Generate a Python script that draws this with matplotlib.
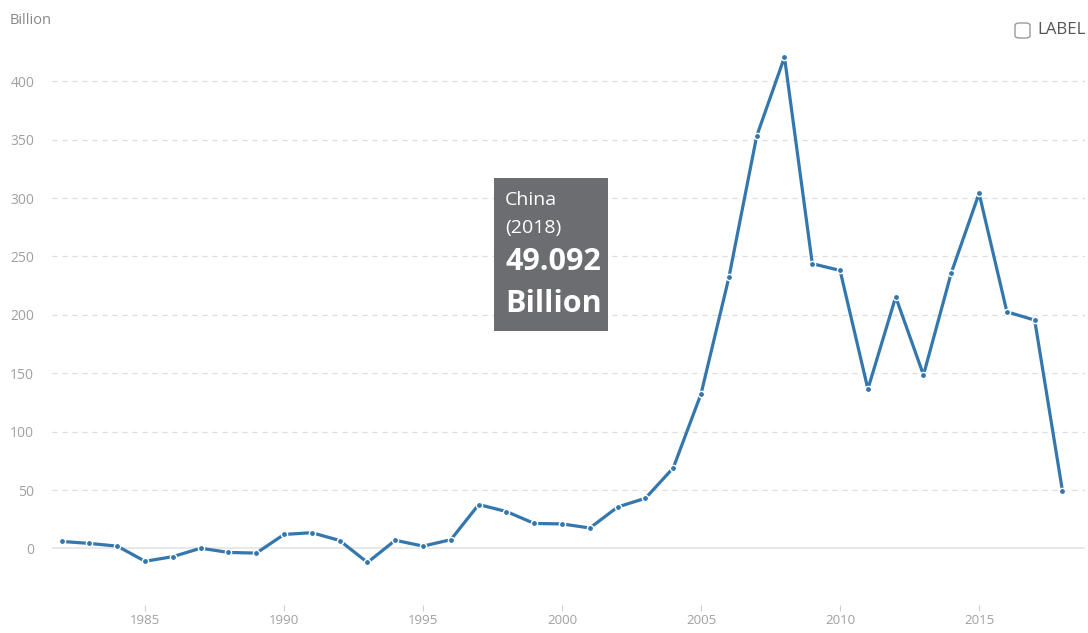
import matplotlib.pyplot as plt
from matplotlib.patches import FancyBboxPatch, Rectangle

plt.rcParams['font.family'] = ['Open Sans', 'DejaVu Sans']

# Net inflows, China (Billion)
years = list(range(1982, 2019))
values = [6.0, 4.3, 2.0, -11.0, -7.0, 0.2, -3.4, -4.0, 12.0, 13.5,
          6.8, -12.0, 7.0, 2.0, 7.5, 37.6, 31.6, 21.4, 21.0, 17.5,
          35.5, 43.0, 69.0, 132.5, 232.0, 353.0, 420.7, 243.8, 238.0, 136.5,
          215.4, 148.5, 236.0, 304.0, 202.6, 195.5, 49.092]
yticks = [0, 50, 100, 150, 200, 250, 300, 350, 400]
xticks = [1985, 1990, 1995, 2000, 2005, 2010, 2015]

line_color = "#3477ad"
grid_color = "#dcdcdc"
text_gray = "#a0a0a0"

fig = plt.figure(figsize=(10.88, 6.33), dpi=100)
ax = fig.add_axes([0.048, 0.045, 0.949, 0.882])

ax.plot(years, values, color=line_color, linewidth=2.3, marker="o",
        markersize=4.5, markerfacecolor=line_color, markeredgecolor="white",
        markeredgewidth=1.0, zorder=3)

ax.set_xlim(1981.66, 2018.8)
ax.set_ylim(-48, 430)

# dashed grid, solid zero line
for y in yticks[1:]:
    ax.axhline(y, color=grid_color, linewidth=0.9, linestyle=(0, (4, 4)), zorder=1)
ax.axhline(0, color="#e4e4e4", linewidth=1.2, zorder=1)

ax.set_yticks(yticks)
ax.set_xticks(xticks)
ax.tick_params(axis="y", length=0, pad=13, labelsize=10, labelcolor=text_gray)
ax.tick_params(axis="x", length=4, width=0.8, color="#cfcfcf", pad=3,
               labelsize=9.5, labelcolor=text_gray)
for side in ["top", "right", "left", "bottom"]:
    ax.spines[side].set_visible(False)

fig.text(10 / 1088, 1 - 20 / 633, "Billion", fontsize=10.5, color="#888888",
         va="center", ha="left")

# LABEL checkbox
fig.patches.append(FancyBboxPatch((1015 / 1088, 1 - 38 / 633), 15 / 1088, 15 / 633,
                                  boxstyle="round,pad=0,rounding_size=0.004",
                                  transform=fig.transFigure, facecolor="white",
                                  edgecolor="#9a9a9a", linewidth=1.0))
fig.text(1037 / 1088, 1 - 30 / 633, "LABEL", fontsize=12.2, color="#555555",
         va="center", ha="left")

# tooltip
fig.patches.append(Rectangle((494 / 1088, 1 - 331 / 633), 114 / 1088, 153 / 633,
                             transform=fig.transFigure, facecolor="#6b6d70",
                             edgecolor="none", zorder=5))
fig.text(505 / 1088, 1 - 200 / 633, "China", fontsize=14, color="white",
         va="center", ha="left", zorder=6)
fig.text(505 / 1088, 1 - 228 / 633, "(2018)", fontsize=14, color="white",
         va="center", ha="left", zorder=6)
fig.text(505 / 1088, 1 - 262 / 633, "49.092", fontsize=22, fontweight="bold",
         color="white", va="center", ha="left", zorder=6)
fig.text(505 / 1088, 1 - 304 / 633, "Billion", fontsize=22, fontweight="bold",
         color="white", va="center", ha="left", zorder=6)

fig.savefig("out.png", dpi=100)
